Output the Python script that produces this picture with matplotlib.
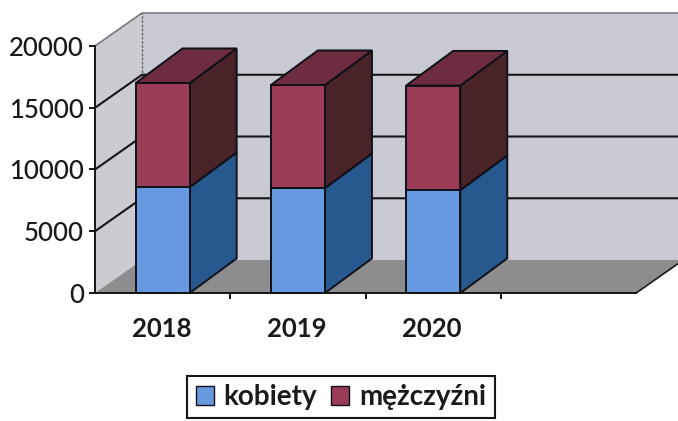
import matplotlib
matplotlib.use('Agg')
import matplotlib.pyplot as plt
from matplotlib.patches import Patch

plt.rcParams['font.family'] = ['Lato', 'DejaVu Sans']

# Dane z wykresu
lata = ['2018', '2019', '2020']
kobiety = [8580, 8500, 8340]
mezczyzni = [8420, 8340, 8460]
yticks = [0, 5000, 10000, 15000, 20000]

# Glebia pseudo-3D w jednostkach osi
glebia_x = 0.347
glebia_y = 2670
glebia_slupka_y = 2800
szerokosc = 0.4
liczba_kategorii = 4

niebieski = ['#6699e0', '#27598f', '#27598f']
czerwony = ['#9b3c57', '#4a2329', '#6d2c40']

fig = plt.figure(figsize=(6.78, 4.21), dpi=100)
ax = fig.add_axes([0, 0, 1, 1])

# Skale dobrane tak, zeby os zaczynala sie w tym samym miejscu co w oryginale
px_x = 1 / 135.3
px_y = 80.97
ax.set_xlim(-95 * px_x, (678 - 95) * px_x)
ax.set_ylim(-(421 - 293) * px_y, 293 * px_y)
ax.patch.set_visible(False)

koniec = liczba_kategorii
prawa = koniec + 2 * glebia_x

# Sciany i podloga
ax.fill([0, glebia_x, glebia_x, 0], [0, glebia_y, 20000 + glebia_y, 20000],
        color='#cdcbd2', lw=0, zorder=1)
ax.fill([glebia_x, prawa, prawa, glebia_x], [glebia_y, glebia_y, 20000 + glebia_y, 20000 + glebia_y],
        color='#c9c9d4', lw=0, zorder=1)
ax.fill([0, glebia_x, prawa, koniec], [0, glebia_y, glebia_y, 0],
        color='#8d8d90', lw=0, zorder=1.2)
ax.plot([koniec, koniec + glebia_x], [0, glebia_y], color='#1a1a1a', lw=1.2, zorder=1.3)
ax.fill([koniec + glebia_x, prawa, prawa], [glebia_y, glebia_y, 20000 + glebia_y],
        color='#c9c9d4', lw=0, zorder=1)
ax.fill([koniec, koniec + glebia_x, prawa, prawa], [0, glebia_y, glebia_y, 0],
        color='white', lw=0, zorder=1.25)

# Krawedzie scian i linie siatki
ax.plot([0, glebia_x, prawa], [20000, 20000 + glebia_y, 20000 + glebia_y], color='#77777c', lw=1.2, zorder=1.5)
ax.plot([glebia_x, glebia_x], [glebia_y, 20000 + glebia_y], color='#66666c', lw=1, ls=(0, (2, 1)), zorder=1.5)
for v in yticks[1:-1]:
    ax.plot([0, glebia_x, prawa], [v, v + glebia_y, v + glebia_y], color='#151515', lw=1.5, zorder=1.5)

# Slupki: przod przez ax.bar, bok i gora dorysowane
dol = [0, 0, 0]
for seria, kolory in [(kobiety, niebieski), (mezczyzni, czerwony)]:
    for i in range(len(lata)):
        x0 = i + 0.5 - szerokosc / 2
        x1 = x0 + szerokosc
        y0 = dol[i]
        y1 = y0 + seria[i]
        ax.bar(i + 0.5, seria[i], szerokosc, bottom=y0, color=kolory[0],
               edgecolor='#101018', linewidth=1.4, zorder=3)
        ax.fill([x1, x1 + glebia_x, x1 + glebia_x, x1],
                [y0, y0 + glebia_slupka_y, y1 + glebia_slupka_y, y1],
                facecolor=kolory[1], edgecolor='#101018', linewidth=1.4, zorder=2.9)
        ax.fill([x0, x0 + glebia_x, x1 + glebia_x, x1],
                [y1, y1 + glebia_slupka_y, y1 + glebia_slupka_y, y1],
                facecolor=kolory[2], edgecolor='#101018', linewidth=1.4, zorder=2.9)
        dol[i] = y1

# Osie
for s in ['top', 'right']:
    ax.spines[s].set_visible(False)
ax.spines['left'].set_position(('data', 0))
ax.spines['left'].set_bounds(0, 20000)
ax.spines['bottom'].set_position(('data', 0))
ax.spines['bottom'].set_bounds(0, koniec)
for s in ['left', 'bottom']:
    ax.spines[s].set_linewidth(1.4)
    ax.spines[s].set_color('#151515')
    ax.spines[s].set_zorder(4)

ax.set_yticks(yticks)
ax.set_yticklabels([str(v) for v in yticks], fontweight='medium')
ax.tick_params(axis='y', length=4, width=1.4, labelsize=18.5, pad=4, color='#151515', labelcolor='#1a1a1a')
ax.set_xticks([1, 2, 3])
ax.set_xticklabels([])
ax.tick_params(axis='x', which='major', length=4, width=1.4, color='#151515')
ax.set_xticks([i + 0.49 for i in range(len(lata))], minor=True)
ax.set_xticklabels(lata, minor=True, fontweight='bold')
ax.tick_params(axis='x', which='minor', length=0, labelsize=18.5, pad=17, labelcolor='#1a1a1a')

# Legenda
uchwyty = [Patch(facecolor=niebieski[0], edgecolor='#101018', label='kobiety'),
           Patch(facecolor=czerwony[0], edgecolor='#101018', label='mężczyźni')]
leg = fig.legend(handles=uchwyty, loc='center', bbox_to_anchor=(341 / 678, 1 - 397 / 421), ncol=2,
                 frameon=True, fancybox=False, edgecolor='#151515', framealpha=1,
                 prop={'size': 20, 'weight': 'bold'}, handlelength=0.65, handleheight=0.65,
                 handletextpad=0.36, columnspacing=0.5, borderpad=0.3, labelcolor='#1a1a1a')
leg.get_frame().set_linewidth(1.5)

fig.savefig('out.png', dpi=100)
